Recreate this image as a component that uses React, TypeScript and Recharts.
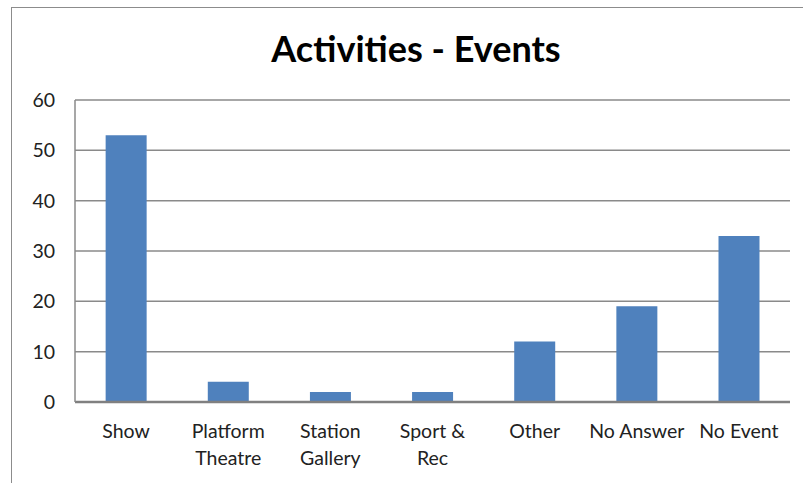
import React from "react";
import { BarChart, Bar, XAxis, YAxis, CartesianGrid } from "recharts";

const categories = [
  "Show",
  "Platform\nTheatre",
  "Station\nGallery",
  "Sport &\nRec",
  "Other",
  "No Answer",
  "No Event",
];
const counts = [53, 4, 2, 2, 12, 19, 33];
const yTicks = [0, 10, 20, 30, 40, 50, 60];

const chartData = categories.map((name, i) => ({ name, value: counts[i] }));

const FONT = "Lato, 'Open Sans', sans-serif";

// x labels split on newline, like the excel wrapping
function CategoryTick(props: any) {
  const { x, y, payload } = props;
  const lines = String(payload.value).split("\n");
  return (
    <text x={x} y={y} textAnchor="middle" fill="#222" fontSize={19.5} fontFamily={FONT}>
      {lines.map((line, i) => (
        <tspan key={i} x={x} dy={i === 0 ? 28 : 27}>
          {line}
        </tspan>
      ))}
    </text>
  );
}

export default function App() {
  return (
    <div
      style={{
        position: "absolute",
        left: 0,
        top: 0,
        width: 803,
        height: 483,
        overflow: "hidden",
        background: "#fff",
      }}
    >
      <div
        style={{
          position: "absolute",
          left: 11,
          top: 7,
          width: 900,
          height: 600,
          border: "1.5px solid #8c8c8c",
        }}
      />
      <div
        style={{
          position: "absolute",
          left: 0,
          top: 26,
          width: 832,
          textAlign: "center",
          fontFamily: FONT,
          fontWeight: 700,
          fontSize: 36,
          color: "#000",
          lineHeight: "44px",
        }}
      >
        Activities - Events
      </div>
      <div style={{ position: "absolute", left: 0, top: 0 }}>
        <BarChart
          width={803}
          height={483}
          data={chartData}
          margin={{ top: 100, right: 13, bottom: 21, left: 15 }}
          barCategoryGap="30%"
        >
          <CartesianGrid vertical={false} stroke="#8a8a8a" strokeWidth={1.5} />
          <XAxis
            dataKey="name"
            height={60}
            interval={0}
            tickLine={false}
            axisLine={{ stroke: "#808080", strokeWidth: 2.5 }}
            tick={<CategoryTick />}
          />
          <YAxis
            width={60}
            domain={[0, 60]}
            ticks={yTicks}
            tickLine={false}
            tickSize={0}
            tickMargin={20}
            axisLine={{ stroke: "#8a8a8a", strokeWidth: 1.5 }}
            tick={{ fill: "#222", fontSize: 19.5, fontFamily: FONT }}
          />
          <Bar dataKey="value" fill="#4F81BD" isAnimationActive={false} />
        </BarChart>
      </div>
    </div>
  );
}
